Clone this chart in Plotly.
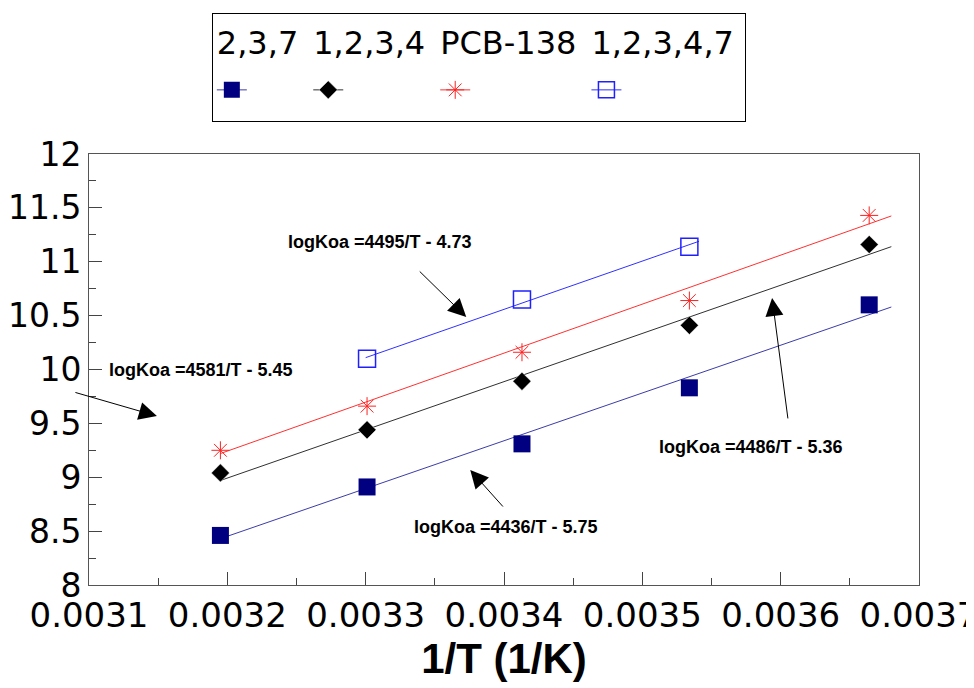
import plotly.graph_objects as go

# ---- data ----
inv_T = [0.003195, 0.003301, 0.003413, 0.003534, 0.003664]
inv_T_12347 = [0.003301, 0.003413, 0.003534]
series_names = ["2,3,7", "1,2,3,4", "PCB-138", "1,2,3,4,7"]
logkoa_237 = [8.46, 8.91, 9.31, 9.83, 10.60]
logkoa_1234 = [9.04, 9.44, 9.89, 10.41, 11.16]
logkoa_pcb138 = [9.25, 9.66, 10.16, 10.64, 11.43]
logkoa_12347 = [10.10, 10.65, 11.14]

# regression line end points
fit_x = [0.003195, 0.003680]
fit_237 = [8.43, 10.58]
fit_1234 = [8.97, 11.14]
fit_pcb138 = [9.22, 11.425]
fit_x_12347 = [0.003300, 0.003541]
fit_12347 = [10.11, 11.19]

equations = ["logKoa =4495/T - 4.73", "logKoa =4581/T - 5.45",
             "logKoa =4486/T - 5.36", "logKoa =4436/T - 5.75"]

x_tick_vals = [0.0031, 0.0032, 0.0033, 0.0034, 0.0035, 0.0036, 0.0037]
x_tick_text = ["0.0031", "0.0032", "0.0033", "0.0034", "0.0035", "0.0036", "0.0037"]


def gapped(vals):
    out = []
    for v in vals:
        out += [v, None]
    return out[:-1]


styles = [
    dict(name=series_names[0], x=inv_T, y=logkoa_237, fx=fit_x, fy=fit_237,
         lc="#3c3ca8", marker=dict(symbol="square", size=17, color="#000080")),
    dict(name=series_names[1], x=inv_T, y=logkoa_1234, fx=fit_x, fy=fit_1234,
         lc="#303030", marker=dict(symbol="diamond", size=14, color="black",
                                  line=dict(color="white", width=0.5))),
    dict(name=series_names[2], x=inv_T, y=logkoa_pcb138, fx=fit_x, fy=fit_pcb138,
         lc="#ff3030", marker=dict(symbol="asterisk-open", size=15, color="#ff2020",
                                  line=dict(color="#ff2020", width=1))),
    dict(name=series_names[3], x=inv_T_12347, y=logkoa_12347, fx=fit_x_12347, fy=fit_12347,
         lc="#3030ff", marker=dict(symbol="square-open", size=17, color="#2020ff",
                                  line=dict(color="#2020ff", width=1.5))),
]

fig = go.Figure()
for i, s in enumerate(styles):
    fig.add_trace(go.Scatter(x=s["fx"], y=s["fy"], mode="lines",
                             line=dict(color=s["lc"], width=1), showlegend=False,
                             hoverinfo="skip"))
for i, s in enumerate(styles):
    fig.add_trace(go.Scatter(
        x=gapped(s["x"]), y=gapped(s["y"]), mode="lines+markers",
        line=dict(color=s["lc"], width=1), marker=s["marker"],
        name="", legendgroup="g%d" % i,
        legendgrouptitle=dict(text=s["name"],
                              font=dict(family="DejaVu Sans", size=32, color="black")),
        connectgaps=False,
    ))

eq_font = dict(family="Liberation Sans", size=18, color="black", weight="bold")
# equation labels
text_pos = [(0.003310, 11.18), (0.0031812, 10.00), (0.0035786, 9.28), (0.0034016, 8.535)]
for (tx, ty), eq in zip(text_pos, equations):
    fig.add_annotation(x=tx, y=ty, text=eq, showarrow=False, font=eq_font)
# arrows pointing at the regression lines
arrows = [(0.0033727, 10.487, -48, -47), (0.0031491, 9.568, -83, -24),
          (0.0035938, 10.664, 16, 122), (0.0033756, 9.067, 34, 38)]
for ax_, ay_, dx, dy in arrows:
    fig.add_annotation(x=ax_, y=ay_, ax=dx, ay=dy, text="", showarrow=True,
                       arrowhead=2, arrowsize=3.6, arrowwidth=1, arrowcolor="black",
                       standoff=0, startstandoff=0)

axis_common = dict(showline=True, mirror=True, linecolor="#555555", linewidth=1,
                   ticks="inside", ticklen=13, tickcolor="#444444", showgrid=False,
                   zeroline=False, automargin=False)

fig.update_xaxes(range=[0.0031, 0.0037], tickvals=x_tick_vals, ticktext=x_tick_text,
                 minor=dict(ticks="inside", ticklen=7, dtick=0.00005, tick0=0.0031,
                            tickcolor="#444444"),
                 ticklabeloverflow="allow",
                 tickfont=dict(family="DejaVu Sans", size=34, color="black"),
                 title=dict(text="1/T (1/K)", standoff=4,
                            font=dict(family="Liberation Sans", size=42, color="black",
                                      weight="bold")),
                 **axis_common)
fig.update_yaxes(range=[8, 12], dtick=0.5, tick0=8,
                 minor=dict(ticks="inside", ticklen=7, dtick=0.25, tickcolor="#444444"),
                 ticklabeloverflow="allow",
                 tickfont=dict(family="DejaVu Sans", size=33, color="black"),
                 **axis_common)

# the page adds an 8 px body margin, so the figure is drawn 8 px right/down
fig.update_layout(
    width=966, height=680,
    margin=dict(l=81, r=55, t=146, b=103, autoexpand=False),
    plot_bgcolor="white", paper_bgcolor="white",
    legend=dict(orientation="h", x=0.148, xanchor="left", y=1.327, yanchor="top",
                bordercolor="black", borderwidth=1, bgcolor="white",
                traceorder="grouped", font=dict(size=38), tracegroupgap=0),
)

fig.write_html("out.html")
